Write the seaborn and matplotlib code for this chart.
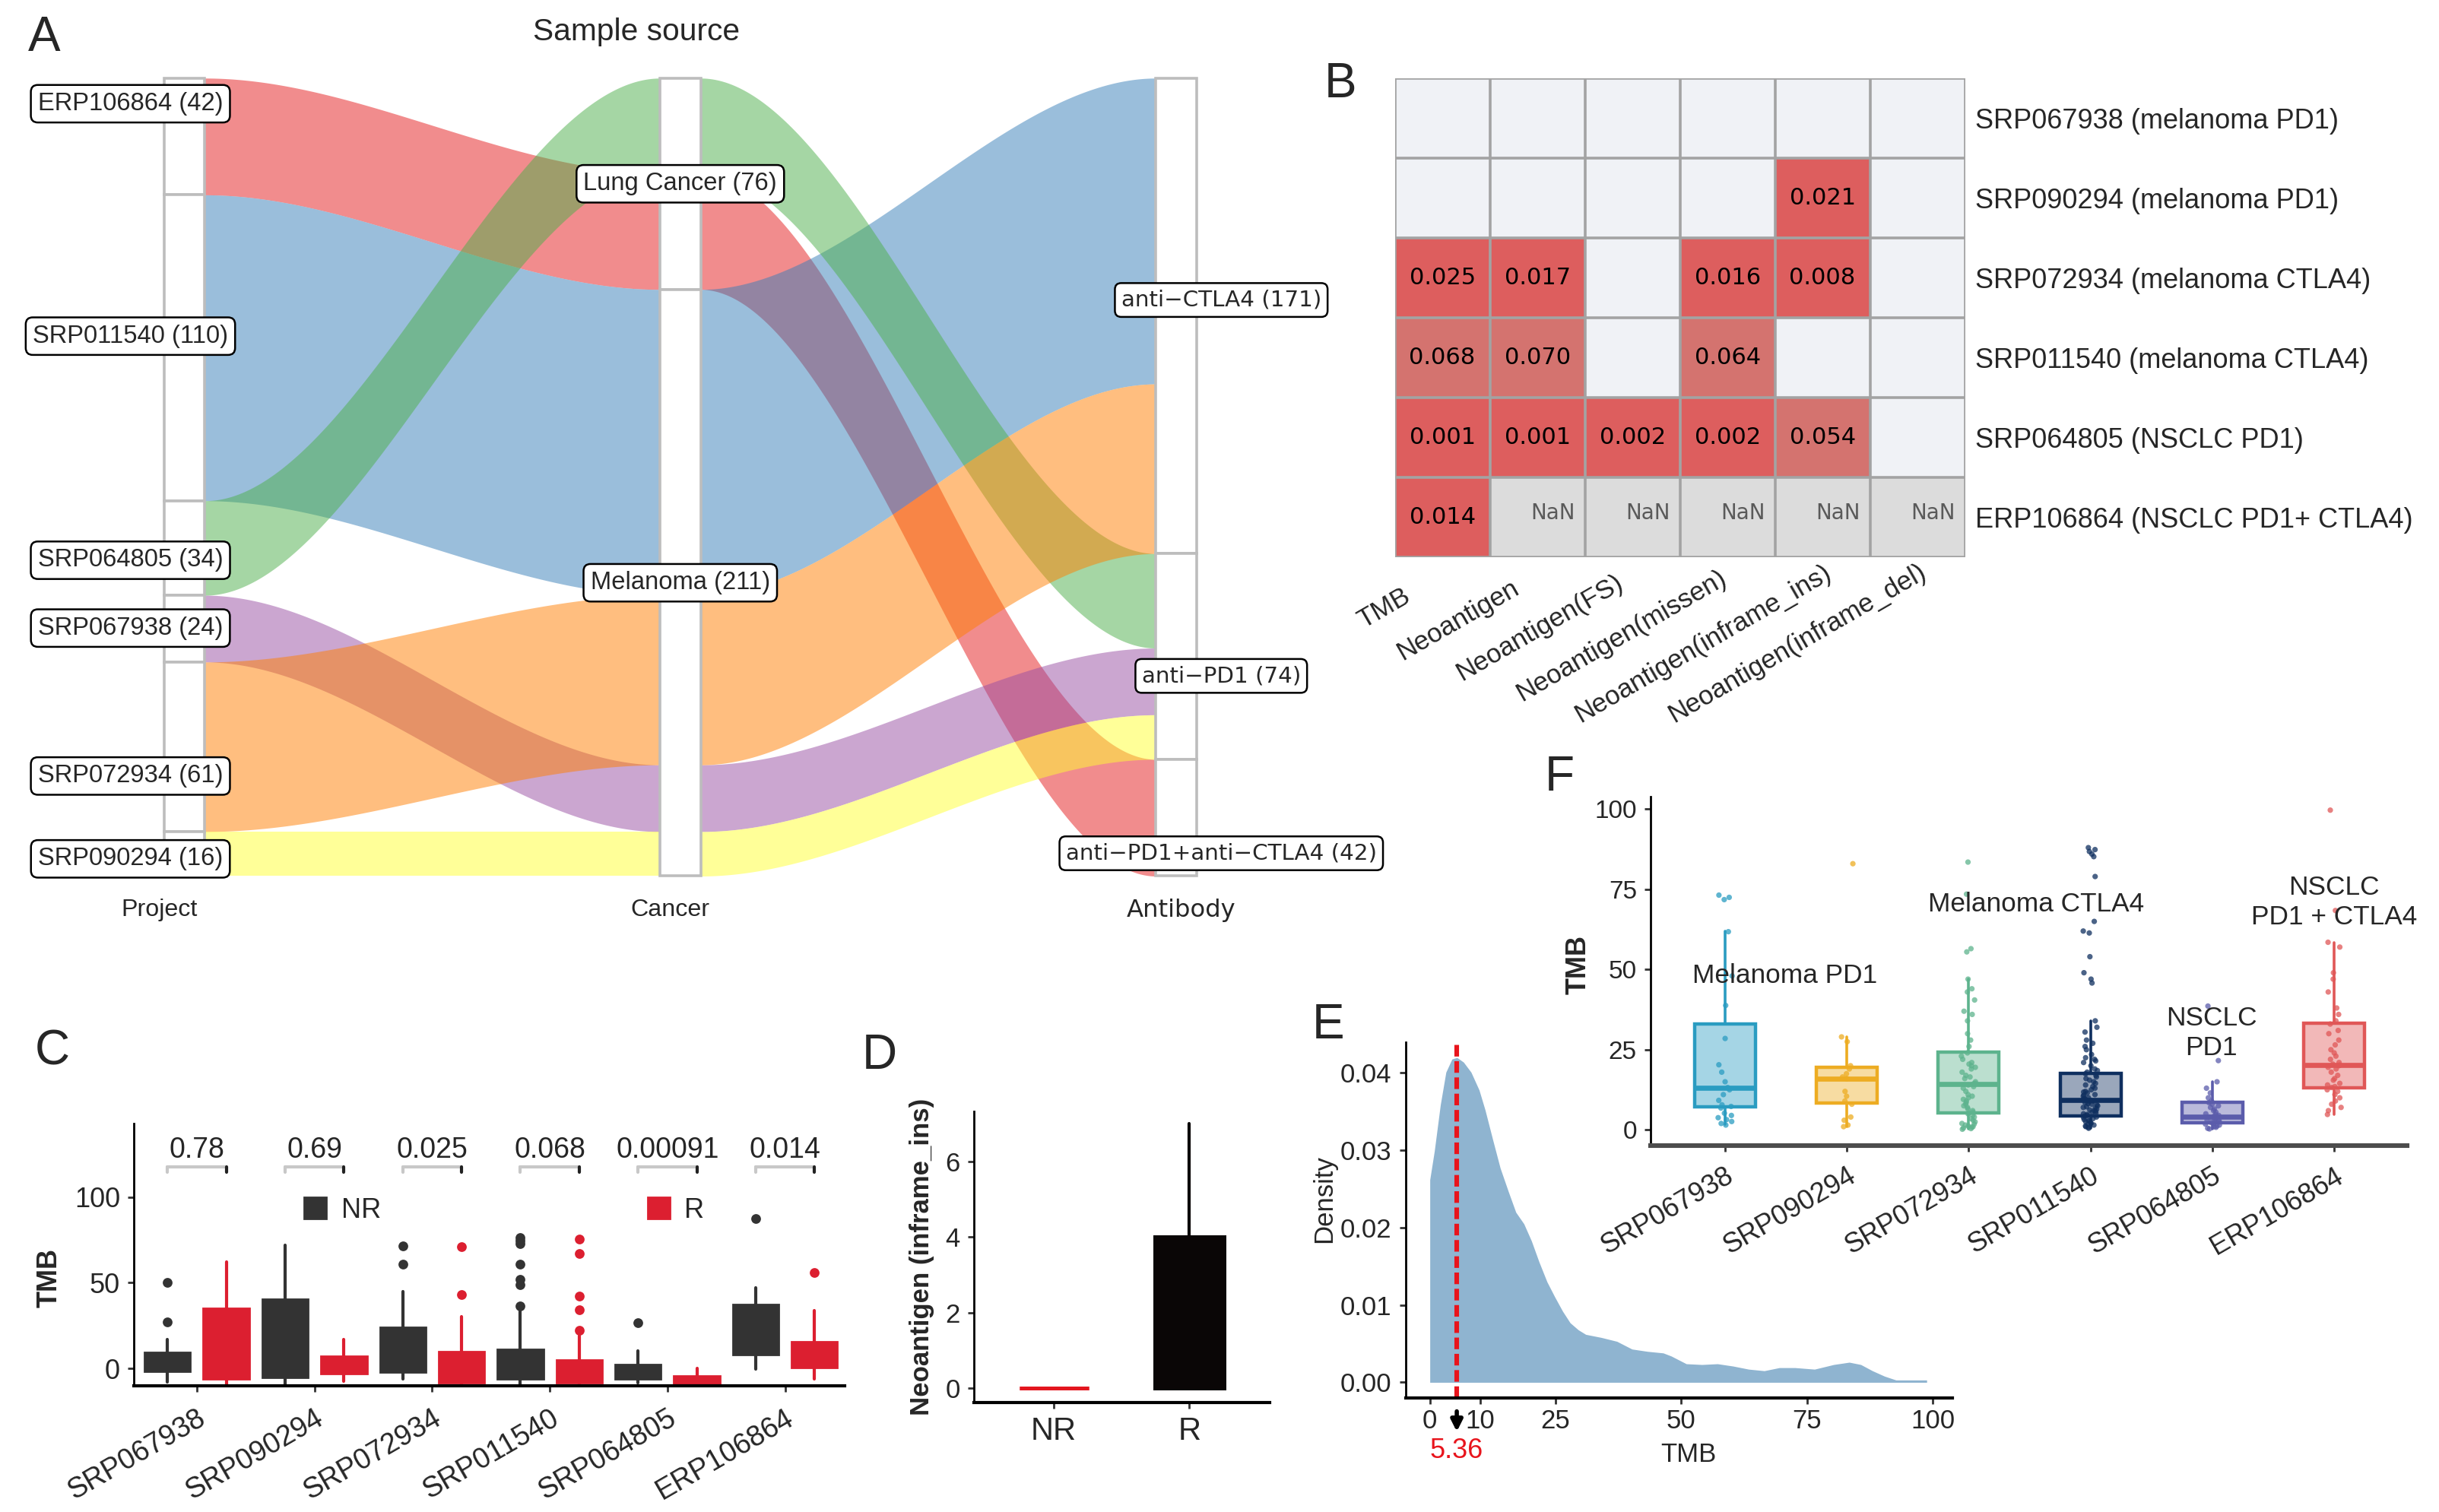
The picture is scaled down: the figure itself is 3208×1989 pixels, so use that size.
"""Multi-panel figure: sample source alluvial, p-value heatmap, TMB boxplots and density."""

import numpy as np
import pandas as pd
import matplotlib
matplotlib.use("Agg")
import matplotlib.pyplot as plt
import seaborn as sns
from matplotlib.patches import Rectangle, Patch
from matplotlib.colors import ListedColormap, to_rgba
from matplotlib.transforms import ScaledTranslation, blended_transform_factory

nan = np.nan

# ---------------- A: sample source ----------------
PROJECTS = ["ERP106864", "SRP011540", "SRP064805", "SRP067938", "SRP072934", "SRP090294"]
PROJECT_N = [42, 110, 34, 24, 61, 16]
PROJECT_CANCER = ["Lung Cancer", "Melanoma", "Lung Cancer", "Melanoma", "Melanoma", "Melanoma"]
PROJECT_ANTIBODY = ["anti-PD1+anti-CTLA4", "anti-CTLA4", "anti-PD1", "anti-PD1",
                    "anti-CTLA4", "anti-PD1"]
CANCERS = ["Lung Cancer", "Melanoma"]
ANTIBODIES = ["anti-CTLA4", "anti-PD1", "anti-PD1+anti-CTLA4"]
AXIS_NAMES = ["Project", "Cancer", "Antibody"]

# ---------------- B: p-value heatmap ----------------
HEAT_ROWS = ["SRP067938 (melanoma PD1)", "SRP090294 (melanoma PD1)",
             "SRP072934 (melanoma CTLA4)", "SRP011540 (melanoma CTLA4)",
             "SRP064805 (NSCLC PD1)", "ERP106864 (NSCLC PD1+ CTLA4)"]
HEAT_COLS = ["TMB", "Neoantigen", "Neoantigen(FS)", "Neoantigen(missen)",
             "Neoantigen(inframe_ins)", "Neoantigen(inframe_del)"]
HEAT_P = [
    [nan, nan, nan, nan, nan, nan],
    [nan, nan, nan, nan, 0.021, nan],
    [0.025, 0.017, nan, 0.016, 0.008, nan],
    [0.068, 0.070, nan, 0.064, nan, nan],
    [0.001, 0.001, 0.002, 0.002, 0.054, nan],
    [0.014, nan, nan, nan, nan, nan],
]
HEAT_NOT_TESTED = [
    [0, 0, 0, 0, 0, 0],
    [0, 0, 0, 0, 0, 0],
    [0, 0, 0, 0, 0, 0],
    [0, 0, 0, 0, 0, 0],
    [0, 0, 0, 0, 0, 0],
    [0, 1, 1, 1, 1, 1],
]

# ---------------- C: TMB by response ----------------
C_PROJECTS = ["SRP067938", "SRP090294", "SRP072934", "SRP011540", "SRP064805", "ERP106864"]
C_PVALUES = ["0.78", "0.69", "0.025", "0.068", "0.00091", "0.014"]
C_NR_LOW = [-8.0, -12.0, -6.0, -12.0, -8.6, -0.4]
C_NR_Q1 = [-1.6, -5.3, -2.0, -6.2, -6.2, 8.2]
C_NR_MED = [4.0, 10.0, 5.0, 2.0, -2.0, 25.0]
C_NR_Q3 = [9.4, 40.5, 23.8, 11.3, 2.3, 37.4]
C_NR_HIGH = [17.0, 72.0, 45.0, 35.0, 10.3, 47.0]
C_NR_OUT = [[27.0, 50.0], [], [61.0, 71.5], [36.6, 49.0, 52.0, 61.0, 72.7, 74.7, 76.6],
            [26.5], [87.7]]
C_R_LOW = [-12.0, -7.6, -12.0, -12.0, -12.0, -6.2]
C_R_Q1 = [-6.3, -3.0, -8.6, -8.6, -12.0, 0.4]
C_R_MED = [10.0, 2.0, 0.0, -2.0, -8.0, 8.0]
C_R_Q3 = [35.2, 7.0, 9.7, 4.9, -4.3, 15.6]
C_R_HIGH = [62.0, 17.0, 30.0, 19.0, 0.0, 33.7]
C_R_OUT = [[], [], [43.0, 71.0], [22.4, 34.3, 42.3, 67.0, 75.6], [], [56.0]]

# ---------------- D: neoantigen (inframe_ins) ----------------
D_GROUPS = ["NR", "R"]
D_LOW = [0.0, 0.0]
D_Q1 = [0.0, 0.0]
D_MED = [0.0, 0.0]
D_Q3 = [0.0, 4.0]
D_HIGH = [0.0, 7.0]

# ---------------- E: TMB density ----------------
E_TMB = [0, 0.9, 2.1, 3.2, 4.4, 5.4, 6.7, 8.2, 9.8, 11.0, 12.5, 14.0, 15.6, 17.1,
         18.7, 20.2, 21.7, 23.3, 24.8, 26.4, 27.9, 29.5, 31.0, 34.1, 37.2, 40.2,
         43.3, 46.4, 48.0, 51.0, 54.1, 57.2, 60.3, 63.4, 66.5, 69.5, 72.6, 76.5,
         80.3, 83.4, 85.7, 88.0, 90.4, 92.7, 95.8, 98.8]
E_DENSITY = [0.0262, 0.0299, 0.0359, 0.0401, 0.0418, 0.0420, 0.0414, 0.0401, 0.0378,
             0.0352, 0.0314, 0.0277, 0.0247, 0.0220, 0.0205, 0.0183, 0.0156, 0.0130,
             0.0111, 0.0092, 0.0077, 0.0068, 0.0062, 0.0058, 0.0053, 0.0043, 0.0040,
             0.0038, 0.0034, 0.0024, 0.0023, 0.0024, 0.0021, 0.0017, 0.0015, 0.0019,
             0.0019, 0.0017, 0.0023, 0.0026, 0.0023, 0.0015, 0.0008, 0.0003, 0.0003,
             0.0003]
E_CUTOFF = 5.36

# ---------------- F: TMB per project ----------------
F_PROJECTS = ["SRP067938", "SRP090294", "SRP072934", "SRP011540", "SRP064805", "ERP106864"]
F_LOW = [1.7, 1.0, 0.2, 0.5, 0.2, 4.8]
F_Q1 = [7.3, 8.4, 5.3, 4.3, 2.3, 13.2]
F_MED = [13.0, 16.0, 14.4, 9.4, 4.2, 20.2]
F_Q3 = [33.0, 19.5, 24.2, 17.6, 8.5, 33.3]
F_HIGH = [62.0, 29.0, 47.0, 34.0, 15.0, 58.5]
F_PTS_SRP067938 = [73.2, 72.5, 71.8, 61.8, 48.0, 38.8, 28.5, 20.3, 18.0, 15.0, 13.2, 12.5,
                   11.0, 9.2, 7.8, 7.3, 6.8, 5.2, 4.5, 3.8, 3.2, 2.6, 2.0, 1.5]
F_PTS_SRP090294 = [83.0, 29.0, 27.5, 20.0, 19.0, 17.5, 16.5, 16.0, 12.0, 10.5, 9.0, 8.0,
                   4.0, 3.0, 1.5, 1.0]
F_PTS_SRP072934 = [83.5, 73.5, 56.5, 55.5, 47.0, 44.0, 43.0, 40.5, 37.0, 36.0, 34.0, 30.0,
                   28.0, 26.0, 24.0, 23.0, 22.0, 21.0, 20.5, 20.0, 19.5, 19.0, 18.0, 17.0,
                   16.5, 16.0, 15.0, 14.5, 14.4, 14.0, 13.5, 13.0, 12.0, 11.0, 10.5, 10.0,
                   9.5, 9.0, 8.5, 8.0, 7.5, 7.0, 6.5, 6.0, 5.5, 5.3, 5.0, 4.5, 4.0, 3.5,
                   3.0, 2.5, 2.0, 1.8, 1.5, 1.2, 1.0, 0.8, 0.6, 0.4, 0.2]
F_PTS_SRP011540 = [88.0, 87.4, 86.8, 86.0, 85.2, 79.0, 65.0, 62.0, 61.4, 54.0, 49.0, 47.0,
                   45.8, 34.0, 32.0, 30.5, 28.0, 27.0, 26.0, 25.0, 23.5, 22.5, 22.0, 21.5,
                   21.0, 20.0, 19.0, 18.5, 18.0, 17.5, 17.0, 16.5, 16.0, 15.5, 15.0, 14.5,
                   14.0, 13.5, 13.0, 12.5, 12.0, 11.8, 11.5, 11.0, 10.8, 10.5, 10.0, 9.8,
                   9.5, 9.4, 9.2, 9.0, 8.8, 8.5, 8.2, 8.0, 7.8, 7.5, 7.2, 7.0, 6.8, 6.5,
                   6.2, 6.0, 5.8, 5.5, 5.2, 5.0, 4.8, 4.5, 4.3, 4.0, 3.8, 3.5, 3.2, 3.0,
                   2.8, 2.5, 2.2, 2.0, 1.8, 1.5, 1.2, 1.0, 0.8, 0.5]
F_PTS_SRP064805 = [38.6, 21.6, 15.0, 13.0, 11.5, 10.0, 9.0, 8.5, 8.0, 7.5, 7.0, 6.5, 6.0,
                   5.5, 5.0, 4.8, 4.5, 4.2, 4.0, 3.8, 3.5, 3.2, 3.0, 2.8, 2.5, 2.3, 2.0,
                   1.8, 1.5, 1.2, 1.0, 0.8, 0.5, 0.3]
F_PTS_ERP106864 = [99.7, 68.4, 58.5, 57.0, 49.0, 47.0, 43.0, 38.0, 36.0, 34.0, 33.0, 31.0,
                   30.0, 28.0, 26.5, 25.0, 24.0, 23.0, 22.0, 21.0, 20.5, 20.2, 20.0, 19.5,
                   19.0, 18.0, 17.0, 16.0, 15.5, 14.5, 14.0, 13.5, 13.2, 12.5, 12.0, 11.0,
                   10.0, 9.0, 8.0, 7.0, 6.0, 4.8]
F_GROUP_LABELS = ["Melanoma PD1", "Melanoma CTLA4", "NSCLC\nPD1", "NSCLC\nPD1 + CTLA4"]

# ---------------- layout / style ----------------
W, H = 3208, 1989
DPI = 200
SET1_ALPHA = 0.5
LEFT_NUDGE = [-11.8, -4.2, 4.4, -0.2, 10.5, 1.8]
RIGHT_NUDGE = [-5.7, 7.0, 12.8]
F_LABEL_POS = [(0.49, 48.0), (2.555, 70.3), (3.995, 30.2), (5.0, 70.9)]
F_COLORS = ["#2A9CC1", "#EDAC22", "#5DB38D", "#0F2F5F", "#5B5CAB", "#E05757"]
NR_COLOR, R_COLOR = "#333333", "#DC1F30"

sns.set_style("white")
plt.rcParams["font.family"] = ["Liberation Sans", "DejaVu Sans"]
plt.rcParams["axes.linewidth"] = 1.0

fig = plt.figure(figsize=(W / DPI, H / DPI), dpi=DPI)


def add_axes_px(x0, y0, x1, y1):
    return fig.add_axes([x0 / W, 1 - y1 / H, (x1 - x0) / W, (y1 - y0) / H])


def style_axes(ax, size=13):
    sns.despine(ax=ax)
    ax.tick_params(direction="out", length=3, width=1, labelsize=size, color="#333333",
                   bottom=True, left=True)
    for s in ("left", "bottom"):
        ax.spines[s].set_color("black")


def draw_alluvial(ax):
    w = 0.082
    n = PROJECT_N
    idx = list(range(len(PROJECTS)))
    cancer_of = [CANCERS.index(c) for c in PROJECT_CANCER]
    ab_of = [ANTIBODIES.index(a) for a in PROJECT_ANTIBODY]

    def stack(order):
        pos, y = {}, 0
        for i in order:
            pos[i] = (y, y + n[i])
            y += n[i]
        return pos

    lode1 = stack(idx)
    lode2 = stack(sorted(idx, key=lambda i: (cancer_of[i], ab_of[i], i)))
    lode3 = stack(sorted(idx, key=lambda i: (ab_of[i], cancer_of[i], i)))

    colors = sns.color_palette("Set1", len(PROJECTS))
    t = np.linspace(0, 1, 200)
    s = t * t * (3 - 2 * t)
    for i in idx:
        for xa, la, lb in ((1, lode1, lode2), (2, lode2, lode3)):
            x = xa + w / 2 + (1 - w) * t
            top = la[i][0] + (lb[i][0] - la[i][0]) * s
            bot = la[i][1] + (lb[i][1] - la[i][1]) * s
            ax.fill_between(x, top, bot, color=colors[i], alpha=SET1_ALPHA, lw=0)

    cancer_n = [sum(n[i] for i in idx if cancer_of[i] == k) for k in range(len(CANCERS))]
    ab_n = [sum(n[i] for i in idx if ab_of[i] == k) for k in range(len(ANTIBODIES))]
    strata = [(1, PROJECTS, n), (2, CANCERS, cancer_n), (3, ANTIBODIES, ab_n)]

    box = dict(boxstyle="round,pad=0.28", fc="white", ec="black", lw=0.9)
    for xpos, names, counts in strata:
        y = 0
        for k, (name, c) in enumerate(zip(names, counts)):
            ax.add_patch(Rectangle((xpos - w / 2, y), w, c, fc="white", ec="#BDBDBD",
                                   lw=1.3, zorder=3))
            mid = y + c / 2
            if xpos == 1:
                ax.text(0.891, mid + LEFT_NUDGE[k], f"{name} ({c})", ha="center",
                        va="center", fontsize=11.8, bbox=box, zorder=5)
            elif xpos == 2:
                ax.text(2.0, mid, f"{name} ({c})", ha="center", va="center",
                        fontsize=11.8, bbox=box, zorder=5)
            else:
                label = f"{name} ({c})".replace("-", "\u2212")
                ax.text(3.091, mid + RIGHT_NUDGE[k], label, ha="center", va="center",
                        fontsize=10.6, family="DejaVu Sans", bbox=box, zorder=5)
            y += c
    total = sum(n)
    for xpos, name, dx in zip((1, 2, 3), AXIS_NAMES, (-0.05, -0.02, 0.01)):
        fam = "DejaVu Sans" if name == "Antibody" else "Liberation Sans"
        ax.text(xpos + dx, total + 12.2, name, ha="center", va="center", fontsize=11.6,
                family=fam)
    ax.set_xlim(0.628, 3.388)
    ax.set_ylim(316.4, -28.1)
    ax.axis("off")


def draw_heatmap(ax):
    p = pd.DataFrame(HEAT_P, index=HEAT_ROWS, columns=HEAT_COLS)
    missing = np.array(HEAT_NOT_TESTED, dtype=bool)
    ax.set_facecolor("#F0F2F6")
    sns.heatmap(p, ax=ax, cmap=ListedColormap(["#DD5E5E", "#D4736F"]), vmin=0, vmax=0.1,
                mask=p.isna(), annot=True, fmt=".3f", cbar=False,
                annot_kws=dict(fontsize=11, family="DejaVu Sans", color="black"))
    not_tested = pd.DataFrame(np.where(missing, 1.0, np.nan), index=HEAT_ROWS,
                              columns=HEAT_COLS)
    sns.heatmap(not_tested, ax=ax, cmap=ListedColormap(["#DCDCDC"]), mask=~missing,
                annot=np.where(missing, "NaN", ""), fmt="", cbar=False,
                annot_kws=dict(fontsize=10, family="DejaVu Sans", color="#5A5A5A"))
    for txt in ax.texts:
        if txt.get_text() == "NaN":
            x, y = txt.get_position()
            txt.set_position((x + 0.4, y - 0.05))
            txt.set_ha("right")
    nr, nc = p.shape
    ax.hlines(range(nr + 1), 0, nc, color="#A3A3A3", lw=1.3, zorder=4)
    ax.vlines(range(nc + 1), 0, nr, color="#A3A3A3", lw=1.3, zorder=4)
    ax.set_xlabel("")
    ax.set_ylabel("")
    ax.yaxis.tick_right()
    ax.set_yticklabels(HEAT_ROWS, rotation=0, fontsize=13)
    ax.set_xticklabels(HEAT_COLS, rotation=30, ha="right", va="top",
                       rotation_mode="anchor", fontsize=12.6)
    ax.tick_params(axis="both", length=0)
    ax.tick_params(axis="x", pad=15)
    ax.tick_params(axis="y", pad=5)
    # ggplot-style hjust = 0.8: slide each label along its baseline
    renderer = fig.canvas.get_renderer()
    ang = np.radians(30)
    for lab in ax.get_xticklabels():
        length = renderer.get_text_width_height_descent(
            lab.get_text(), lab.get_fontproperties(), ismath=False)[0]
        dx = (-66.0 + 0.2 * length * np.cos(ang)) / DPI
        dy = (0.2 * length * np.sin(ang)) / DPI
        lab.set_transform(lab.get_transform() + ScaledTranslation(dx, dy, fig.dpi_scale_trans))


def stats_list(low, q1, med, q3, high, out=None):
    out = out or [[] for _ in low]
    return [dict(whislo=a, q1=b, med=c, q3=d, whishi=e, fliers=f)
            for a, b, c, d, e, f in zip(low, q1, med, q3, high, out)]


def draw_response_box(ax):
    pos = np.arange(1, len(C_PROJECTS) + 1)
    groups = [
        (stats_list(C_NR_LOW, C_NR_Q1, C_NR_MED, C_NR_Q3, C_NR_HIGH, C_NR_OUT), -0.25, NR_COLOR),
        (stats_list(C_R_LOW, C_R_Q1, C_R_MED, C_R_Q3, C_R_HIGH, C_R_OUT), 0.25, R_COLOR),
    ]
    for stats, off, col in groups:
        ax.bxp(stats, positions=pos + off, widths=0.39, patch_artist=True, showcaps=False,
               manage_ticks=False,
               boxprops=dict(facecolor=col, edgecolor=col, lw=1),
               whiskerprops=dict(color=col, lw=1.5),
               medianprops=dict(color=col, lw=1),
               flierprops=dict(marker="o", mfc=col, mec=col, ms=3.6))
    for x, ptxt in zip(pos, C_PVALUES):
        ax.plot([x - 0.25, x + 0.25], [117.5, 117.5], color="#C8C8C8", lw=1.5)
        ax.plot([x - 0.25, x - 0.25], [117.5, 114.6], color="#C8C8C8", lw=1.5)
        ax.plot([x + 0.25, x + 0.25], [117.5, 114.6], color="#222222", lw=1.5)
        ax.text(x, 119.5, ptxt, ha="center", va="bottom", fontsize=13.5)
    handles = [Patch(facecolor=NR_COLOR, edgecolor=NR_COLOR, label="NR"),
               Patch(facecolor=R_COLOR, edgecolor=R_COLOR, label="R")]
    ax.legend(handles=handles, loc="upper left", bbox_to_anchor=(0.24, 0.72), ncol=2,
              frameon=False, handlelength=0.8, handleheight=0.8, handletextpad=0.55,
              columnspacing=9.7, borderpad=0, borderaxespad=0, fontsize=13)
    ax.set_xlim(0.464, 6.507)
    ax.set_ylim(-10.1, 143)
    ax.set_yticks([0, 50, 100])
    ax.set_xticks(pos)
    ax.set_xticklabels(C_PROJECTS, rotation=30, ha="right", va="top",
                       rotation_mode="anchor")
    ax.set_ylabel("TMB", fontsize=13, fontweight="bold")
    ax.yaxis.set_label_coords(-0.1, 0.41)
    style_axes(ax, 13)
    ax.tick_params(axis="x", labelsize=13.5, pad=6)
    ax.spines["bottom"].set_linewidth(1.5)


def draw_inframe(ax):
    stats = stats_list(D_LOW, D_Q1, D_MED, D_Q3, D_HIGH)
    for k, col in enumerate(["#E3161F", "#0A0606"]):
        ax.bxp([stats[k]], positions=[k], widths=0.51, patch_artist=True, showcaps=False,
               manage_ticks=False, showfliers=False,
               boxprops=dict(facecolor=col, edgecolor=col, lw=1.8),
               whiskerprops=dict(color=col, lw=1.5),
               medianprops=dict(color=col, lw=1.8))
    ax.set_xlim(-0.59, 1.59)
    ax.set_ylim(-0.37, 7.33)
    ax.set_yticks([0, 2, 4, 6])
    ax.set_xticks([0, 1])
    ax.set_xticklabels(D_GROUPS)
    ax.set_ylabel("Neoantigen (inframe_ins)", fontsize=12.5, fontweight="bold")
    ax.yaxis.set_label_coords(-0.135, 0.5)
    style_axes(ax, 12.5)
    ax.tick_params(axis="x", labelsize=15)
    ax.spines["bottom"].set_linewidth(1.5)


def draw_density(ax):
    ax.fill_between(E_TMB, E_DENSITY, 0, color="#8FB4D0", lw=0)
    ax.axvline(E_CUTOFF, color="#E8141C", lw=2.2, ls=(0, (2.5, 1.0)))
    ax.set_xlim(-4.86, 103.9)
    ax.set_ylim(-0.0020, 0.0440)
    ax.set_xticks([0, 10, 25, 50, 75, 100])
    ax.set_yticks([0, 0.01, 0.02, 0.03, 0.04])
    ax.set_yticklabels([f"{v:.2f}" for v in [0, 0.01, 0.02, 0.03, 0.04]])
    trans = blended_transform_factory(ax.transData, ax.transAxes)
    ax.annotate("", xy=(E_CUTOFF, -0.095), xytext=(E_CUTOFF, -0.038), xycoords=trans,
                textcoords=trans,
                arrowprops=dict(arrowstyle="-|>", color="black", lw=2.0, mutation_scale=11,
                                shrinkA=0, shrinkB=0))
    ax.text(E_CUTOFF, -0.148, f"{E_CUTOFF:.2f}", transform=trans, color="#E8141C",
            ha="center", va="center", fontsize=13)
    ax.set_xlabel("TMB", fontsize=12.5)
    ax.xaxis.set_label_coords(0.517, -0.125)
    ax.set_ylabel("Density", fontsize=12.5)
    ax.yaxis.set_label_coords(-0.126, 0.56)
    style_axes(ax, 12.5)
    ax.tick_params(axis="x", pad=2)
    ax.spines["bottom"].set_linewidth(1.5)


def draw_project_box(ax):
    points = [F_PTS_SRP067938, F_PTS_SRP090294, F_PTS_SRP072934, F_PTS_SRP011540,
              F_PTS_SRP064805, F_PTS_ERP106864]
    df = pd.DataFrame({
        "project": np.repeat(F_PROJECTS, [len(v) for v in points]),
        "tmb": np.concatenate(points),
    })
    stats = stats_list(F_LOW, F_Q1, F_MED, F_Q3, F_HIGH)
    for k, col in enumerate(F_COLORS):
        ax.bxp([stats[k]], positions=[k], widths=0.5, patch_artist=True, showcaps=False,
               manage_ticks=False, showfliers=False,
               boxprops=dict(facecolor=to_rgba(col, 0.42), edgecolor=col, lw=1.6),
               whiskerprops=dict(color=col, lw=1.3),
               medianprops=dict(color=col, lw=2.4))
    np.random.seed(7)
    sns.stripplot(data=df, x="project", y="tmb", hue="project", order=F_PROJECTS,
                  hue_order=F_PROJECTS, palette=F_COLORS, jitter=0.06, size=2.6,
                  alpha=0.75, linewidth=0, legend=False, ax=ax, zorder=4)
    for txt, (x, y) in zip(F_GROUP_LABELS, F_LABEL_POS):
        ax.text(x, y, txt, ha="center", va="center", fontsize=12.7, linespacing=1.25,
                zorder=5)
    ax.set_xlim(-0.612, 5.6)
    ax.set_ylim(-5.0, 103.9)
    ax.set_yticks([0, 25, 50, 75, 100])
    ax.set_xticks(range(len(F_PROJECTS)))
    ax.set_xticklabels(F_PROJECTS, rotation=30, ha="right", va="top",
                       rotation_mode="anchor")
    ax.set_xlabel("")
    ax.set_ylabel("TMB", fontsize=13, fontweight="bold")
    ax.yaxis.set_label_coords(-0.078, 0.52)
    style_axes(ax, 12)
    ax.tick_params(axis="x", labelsize=13, pad=5)
    ax.spines["bottom"].set_linewidth(2.2)
    ax.spines["bottom"].set_color("#4D4D4D")


draw_alluvial(add_axes_px(0, 0, 1800, 1260))
draw_heatmap(add_axes_px(1834.6, 103, 2584.6, 733))
draw_response_box(add_axes_px(176, 1478, 1111, 1822.8))
draw_inframe(add_axes_px(1281, 1461.7, 1669.6, 1844.8))
draw_density(add_axes_px(1848.5, 1370.8, 2567.9, 1838.8))
draw_project_box(add_axes_px(2171, 1048, 3166, 1507.4))

fig.text(836.6 / W, 1 - 42.4 / H, "Sample source", ha="center", va="center", fontsize=14.7)
for letter, (x, y) in zip("ABCDEF", [(58.6, 50), (1763, 111), (68.5, 1383.7),
                                     (1156.7, 1389), (1747, 1348.7), (2051, 1023)]):
    fig.text(x / W, 1 - y / H, letter, ha="center", va="center", fontsize=23)

fig.savefig("out.png", dpi=DPI)
